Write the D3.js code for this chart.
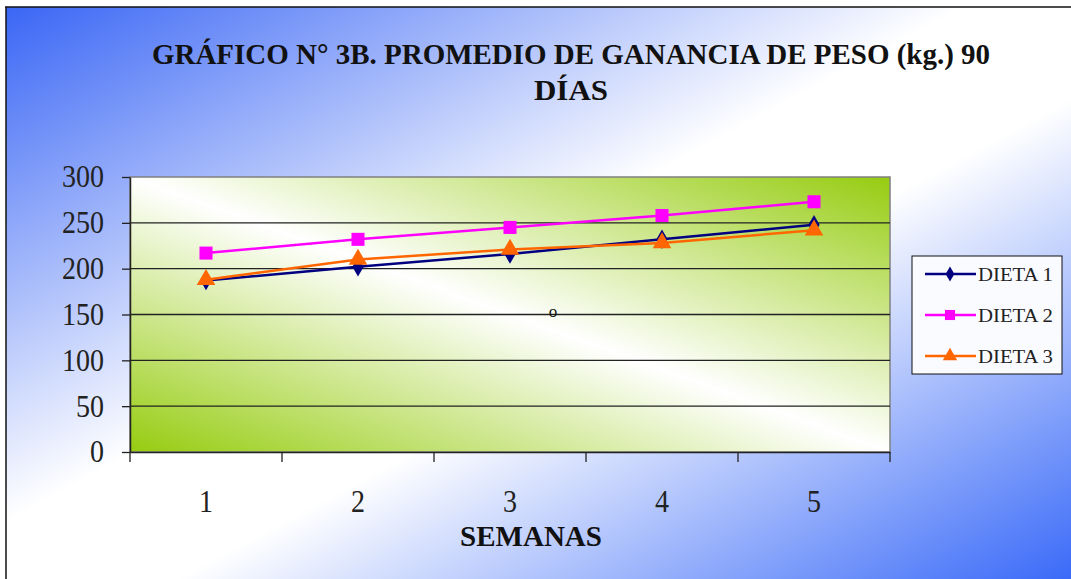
<!DOCTYPE html>
<html>
<head>
<meta charset="utf-8">
<script src="https://cdn.jsdelivr.net/npm/d3@7"></script>
<style>
body { margin: 0; background: #fff; }
svg { display: block; }
text { font-family: "Liberation Serif", "Times New Roman", serif; }
</style>
</head>
<body>
<script>
var semanas = ["1", "2", "3", "4", "5"];
var dieta1 = [187, 202, 216, 232, 248];
var dieta2 = [217, 232, 245, 258, 273];
var dieta3 = [188, 210, 221, 228, 242];
var yTicks = [0, 50, 100, 150, 200, 250, 300];
var seriesNames = ["DIETA 1", "DIETA 2", "DIETA 3"];

var width = 1071, height = 579;

var svg = d3.select("body").append("svg")
    .attr("width", width)
    .attr("height", height);

var defs = svg.append("defs");

// outer background: blue corners, white diagonal
var bg = defs.append("linearGradient").attr("id", "bgGrad")
    .attr("x1", "0%").attr("y1", "0%").attr("x2", "100%").attr("y2", "100%");
bg.append("stop").attr("offset", "0%").attr("stop-color", "#3a66f5");
bg.append("stop").attr("offset", "45%").attr("stop-color", "#ffffff");
bg.append("stop").attr("offset", "58%").attr("stop-color", "#ffffff");
bg.append("stop").attr("offset", "100%").attr("stop-color", "#3a6af8");

// plot area: green corners bottom-left / top-right
var pg = defs.append("linearGradient").attr("id", "plotGrad")
    .attr("x1", "0%").attr("y1", "100%").attr("x2", "100%").attr("y2", "0%");
pg.append("stop").attr("offset", "0%").attr("stop-color", "#96cc10");
pg.append("stop").attr("offset", "50%").attr("stop-color", "#ffffff");
pg.append("stop").attr("offset", "100%").attr("stop-color", "#96cc10");

svg.append("rect")
    .attr("x", 6).attr("y", 7)
    .attr("width", width - 6).attr("height", height - 7)
    .attr("fill", "url(#bgGrad)");
svg.append("line").attr("x1", 5).attr("x2", width).attr("y1", 7).attr("y2", 7)
    .attr("stroke", "#111").attr("stroke-width", 1.5);
svg.append("line").attr("x1", 6).attr("x2", 6).attr("y1", 7).attr("y2", height)
    .attr("stroke", "#111").attr("stroke-width", 1.5);

// title
var title = svg.append("text")
    .attr("text-anchor", "middle")
    .attr("font-weight", "bold")
    .attr("font-size", 30)
    .attr("fill", "#111");
title.append("tspan").attr("x", 571).attr("y", 64)
    .attr("textLength", 838).attr("lengthAdjust", "spacingAndGlyphs")
    .text("GRÁFICO N° 3B. PROMEDIO DE GANANCIA DE PESO (kg.) 90");
title.append("tspan").attr("x", 571).attr("y", 100)
    .attr("textLength", 74).attr("lengthAdjust", "spacingAndGlyphs")
    .text("DÍAS");

var plot = {left: 130, top: 177, right: 890, bottom: 452};

var x = d3.scaleBand().domain(semanas).range([plot.left, plot.right]);
var y = d3.scaleLinear().domain([0, 300]).range([plot.bottom, plot.top]);

svg.append("rect")
    .attr("x", plot.left).attr("y", plot.top)
    .attr("width", plot.right - plot.left).attr("height", plot.bottom - plot.top)
    .attr("fill", "url(#plotGrad)")
    .attr("stroke", "#808080").attr("stroke-width", 1.5);

// gridlines
svg.append("g").selectAll("line")
    .data(yTicks.filter(function(d) { return d > 0 && d < 300; }))
    .enter().append("line")
    .attr("x1", plot.left).attr("x2", plot.right)
    .attr("y1", function(d) { return y(d); })
    .attr("y2", function(d) { return y(d); })
    .attr("stroke", "#222").attr("stroke-width", 1.3);

// y axis
var yAxis = svg.append("g")
    .attr("transform", "translate(" + plot.left + ",0)")
    .call(d3.axisLeft(y).tickValues(yTicks).tickSize(8).tickPadding(18).tickSizeOuter(0));
yAxis.select(".domain").attr("stroke", "#222").attr("stroke-width", 1.5);
yAxis.selectAll(".tick line").attr("stroke", "#222").attr("stroke-width", 1.3);
yAxis.selectAll(".tick text")
    .attr("font-family", "Liberation Serif, serif")
    .attr("font-size", 31).attr("fill", "#222")
    .attr("textLength", function(d) { return String(d).length * 14; })
    .attr("lengthAdjust", "spacingAndGlyphs");

// x axis
var xAxis = svg.append("g")
    .attr("transform", "translate(0," + plot.bottom + ")")
    .call(d3.axisBottom(x).tickSize(0).tickPadding(38));
xAxis.select(".domain").attr("stroke", "#222").attr("stroke-width", 1.5);
xAxis.selectAll(".tick text")
    .attr("font-family", "Liberation Serif, serif")
    .attr("font-size", 31).attr("fill", "#222")
    .attr("textLength", 14)
    .attr("lengthAdjust", "spacingAndGlyphs");
var bounds = semanas.map(function(d) { return x(d); }).concat([plot.right]);
xAxis.selectAll(".sep").data(bounds).enter().append("line")
    .attr("x1", function(d) { return d; }).attr("x2", function(d) { return d; })
    .attr("y1", 0).attr("y2", 10)
    .attr("stroke", "#222").attr("stroke-width", 1.3);

svg.append("text")
    .attr("x", 531).attr("y", 546)
    .attr("text-anchor", "middle")
    .attr("font-weight", "bold")
    .attr("font-size", 30)
    .attr("textLength", 142).attr("lengthAdjust", "spacingAndGlyphs")
    .attr("fill", "#111")
    .text("SEMANAS");

// stray mark in the plot
svg.append("text")
    .attr("x", 553).attr("y", 317)
    .attr("text-anchor", "middle")
    .attr("font-size", 17).attr("fill", "#111")
    .text("o");

var series = [
    {name: seriesNames[0], values: dieta1, color: "#000080", symbol: d3.symbolDiamond, size: 110},
    {name: seriesNames[1], values: dieta2, color: "#ff00ff", symbol: d3.symbolSquare, size: 170},
    {name: seriesNames[2], values: dieta3, color: "#ff6600", symbol: d3.symbolTriangle, size: 150}
];

var line = d3.line()
    .x(function(d, i) { return x(semanas[i]) + x.bandwidth() / 2; })
    .y(function(d) { return y(d); });

series.forEach(function(s) {
    svg.append("path")
        .datum(s.values)
        .attr("fill", "none")
        .attr("stroke", s.color)
        .attr("stroke-width", 2.5)
        .attr("d", line);
    svg.append("g").selectAll("path")
        .data(s.values)
        .enter().append("path")
        .attr("transform", function(d, i) {
            return "translate(" + (x(semanas[i]) + x.bandwidth() / 2) + "," + y(d) + ")";
        })
        .attr("d", d3.symbol().type(s.symbol).size(s.size))
        .attr("fill", s.color);
});

// legend
var legend = svg.append("g").attr("transform", "translate(912,256)");
legend.append("rect")
    .attr("width", 150).attr("height", 118)
    .attr("fill", "#fafbff")
    .attr("stroke", "#111").attr("stroke-width", 1);
series.forEach(function(s, i) {
    var ly = 18 + i * 41;
    legend.append("line")
        .attr("x1", 13).attr("x2", 64).attr("y1", ly).attr("y2", ly)
        .attr("stroke", s.color).attr("stroke-width", 2.5);
    legend.append("path")
        .attr("transform", "translate(38," + ly + ")")
        .attr("d", d3.symbol().type(s.symbol).size(s.size * 0.6))
        .attr("fill", s.color);
    legend.append("text")
        .attr("x", 66).attr("y", ly + 7)
        .attr("font-size", 19).attr("fill", "#222")
        .attr("textLength", 75).attr("lengthAdjust", "spacingAndGlyphs")
        .text(s.name);
});
</script>
</body>
</html>
